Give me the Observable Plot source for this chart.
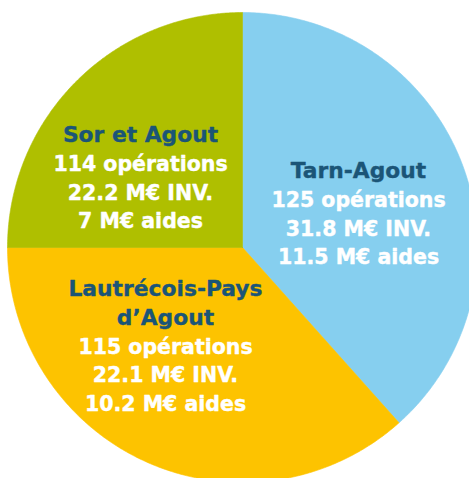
<!DOCTYPE html>
<html>
<head>
<meta charset="utf-8">
<script src="https://cdn.jsdelivr.net/npm/d3@7"></script>
<script src="https://cdn.jsdelivr.net/npm/@observablehq/plot@0.6"></script>
<style>
  html, body { margin: 0; padding: 0; background: #fff; }
  #chart svg { display: block; overflow: hidden; }
</style>
</head>
<body>
<div id="chart"></div>
<script>
// ---- data ----
const regions = ["Tarn-Agout", "Lautrécois-Pays\nd’Agout", "Sor et Agout"];
const operations = [125, 115, 114];
const investments = [31.8, 22.1, 22.2];   // M€ INV.
const aids = [11.5, 10.2, 7];             // M€ aides
const shares = [38.4, 36.6, 25.0];        // slice share (%) as drawn
const colors = ["#86cfef", "#fdc300", "#afbf00"];

// ---- layout (pixel frame) ----
const W = 469, H = 478;
const cx = 242, cy = 247, R = 235;
const labelPos = [[358, 171], [165, 289], [140, 135]]; // first-line centres
const lineH = 28.8;

// ---- slices through d3.pie ----
const arcs = d3.pie().sort(null).value(d => d)(shares);
const slicePts = [];
arcs.forEach((a, i) => {
  const n = 240;
  slicePts.push({k: i, x: cx, y: cy});
  for (let j = 0; j <= n; j++) {
    const t = a.startAngle + (a.endAngle - a.startAngle) * j / n;
    slicePts.push({k: i, x: cx + R * Math.sin(t), y: cy - R * Math.cos(t)});
  }
  slicePts.push({k: i, x: cx, y: cy});
});

// ---- label lines ----
const lines = [];
regions.forEach((name, i) => {
  const [lx, ly] = labelPos[i];
  const rows = [
    ...name.split("\n").map(s => ({s, title: true})),
    {s: `${operations[i]} opérations`, title: false},
    {s: `${investments[i]} M€ INV.`, title: false},
    {s: `${aids[i]} M€ aides`, title: false}
  ];
  rows.forEach((r, j) => lines.push({x: lx, y: ly + j * lineH, text: r.s, title: r.title}));
});

const chart = Plot.plot({
  width: W,
  height: H,
  margin: 0,
  x: {domain: [0, W], range: [0, W], axis: null},
  y: {domain: [0, H], range: [0, H], axis: null},
  style: {background: "#fff", fontFamily: "'DejaVu Sans', sans-serif"},
  marks: [
    Plot.line(slicePts, {x: "x", y: "y", z: "k", fill: d => colors[d.k], stroke: d => colors[d.k], strokeWidth: 0.6, curve: "linear"}),
    Plot.text(lines.filter(d => d.title), {x: "x", y: "y", text: "text", fill: "#1b5577", stroke: "#1b5577", strokeWidth: 0.35, fontSize: 21.8, fontWeight: "bold", textAnchor: "middle"}),
    Plot.text(lines.filter(d => !d.title), {x: "x", y: "y", text: "text", fill: "#ffffff", stroke: "#ffffff", strokeWidth: 0.4, fontSize: 20.5, fontWeight: "bold", textAnchor: "middle"})
  ]
});
document.getElementById("chart").append(chart);
</script>
</body>
</html>
